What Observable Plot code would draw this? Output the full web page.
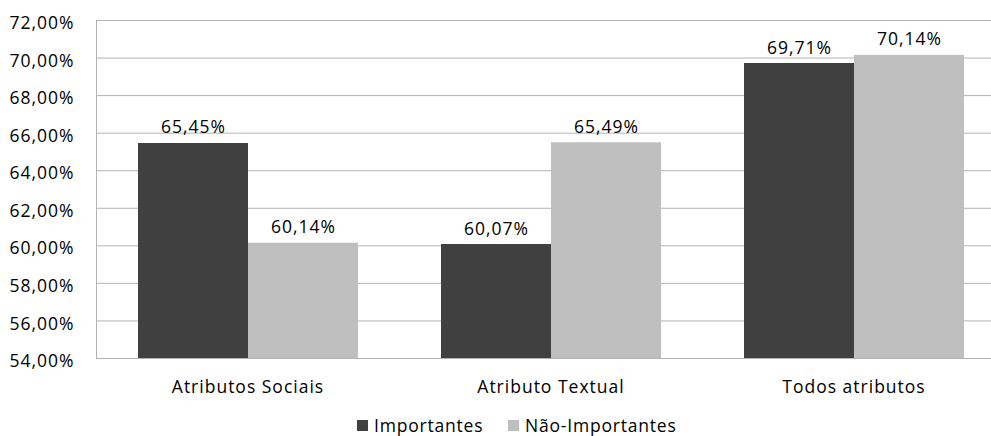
<!DOCTYPE html>
<html>
<head>
<meta charset="utf-8">
<script src="https://cdn.jsdelivr.net/npm/d3@7"></script>
<script src="https://cdn.jsdelivr.net/npm/@observablehq/plot@0.6"></script>
<style>
  html, body { margin: 0; background: #fff; overflow: hidden; width: 991px; height: 436px; font-family: "Open Sans", sans-serif; }
  #chart svg { display: block; max-width: none !important; }
  #legend { position: relative; height: 26px; font-size: 17.5px; letter-spacing: 0.8px; color: #000; }
  .item { position: absolute; top: 3px; display: flex; align-items: center; line-height: 24px; }
  .sw { width: 11px; height: 11px; margin-right: 6px; }
</style>
</head>
<body>
<div id="chart"></div>
<div id="legend"></div>
<script>
const categories = ["Atributos Sociais", "Atributo Textual", "Todos atributos"];
const series = ["Importantes", "Não-Importantes"];
const importantes = [65.45, 60.07, 69.71];
const naoImportantes = [60.14, 65.49, 70.14];
const yTicks = [54, 56, 58, 60, 62, 64, 66, 68, 70, 72];
const colors = ["#404040", "#bfbfbf"];

const fmt = v => v.toFixed(2).replace(".", ",") + "%";
const data = [];
categories.forEach((c, i) => {
  data.push({cat: c, series: series[0], value: importantes[i]});
  data.push({cat: c, series: series[1], value: naoImportantes[i]});
});

const chart = Plot.plot({
  width: 1006,
  height: 410,
  marginLeft: 95,
  marginRight: 1,
  marginTop: 20,
  marginBottom: 52,
  style: {fontFamily: "'Open Sans', sans-serif", fontSize: "17.5px", letterSpacing: "1px", color: "#000", background: "#fff", maxWidth: "none"},
  fx: {domain: categories, padding: 0, label: null, axis: "bottom", tickSize: 0, tickPadding: 22},
  x: {domain: series, paddingInner: 0, paddingOuter: 0.37, axis: null},
  y: {domain: [54, 72], ticks: yTicks, tickFormat: fmt, label: null, tickSize: 0, tickPadding: 22},
  color: {domain: series, range: colors},
  marks: [
    Plot.ruleY(yTicks, {stroke: "#b3b3b3", strokeWidth: 1}),
    Plot.frame({anchor: "left", stroke: "#b3b3b3", facetAnchor: "left"}),
    Plot.barY(data, {fx: "cat", x: "series", y1: 54, y2: "value", fill: "series"}),
    Plot.text(data, {fx: "cat", x: "series", y: "value", text: d => fmt(d.value), lineAnchor: "bottom", dy: -10, fill: "#000"})
  ]
});
chart.style.maxWidth = "none";
const yl = chart.querySelector("g[aria-label='y-axis tick label']");
if (yl) yl.setAttribute("transform", (yl.getAttribute("transform") || "") + " translate(0,3)");
document.getElementById("chart").appendChild(chart);

const legend = document.getElementById("legend");
const lefts = [357, 508];
series.forEach((s, i) => {
  const item = document.createElement("div");
  item.className = "item";
  item.style.left = lefts[i] + "px";
  const sw = document.createElement("span");
  sw.className = "sw";
  sw.style.background = colors[i];
  const t = document.createElement("span");
  t.textContent = s;
  item.appendChild(sw);
  item.appendChild(t);
  legend.appendChild(item);
});
</script>
</body>
</html>
